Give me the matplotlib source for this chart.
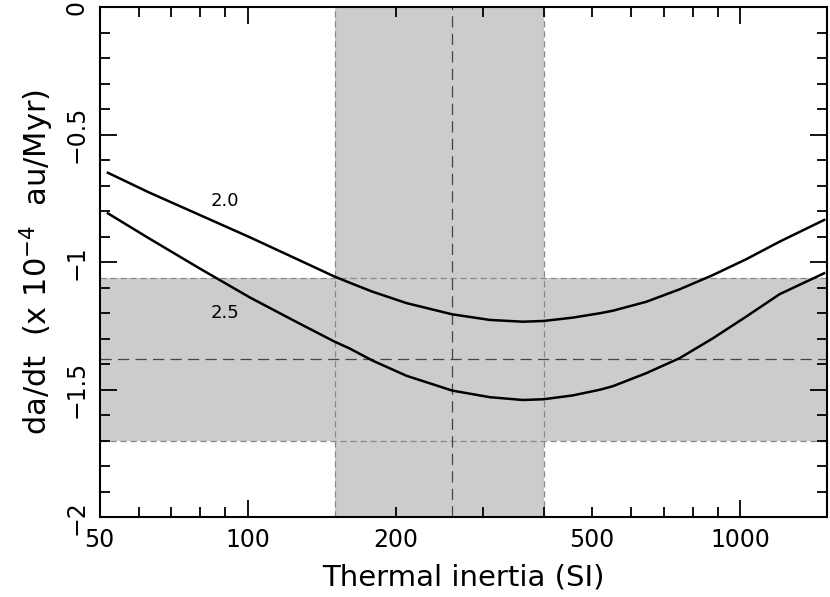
import numpy as np
from matplotlib import pyplot as plt
from matplotlib import ticker

plt.rcParams.update({'font.size': 17, 'font.family': 'DejaVu Sans', 'mathtext.fontset': 'dejavusans'})

# thermal inertia (SI) and da/dt (1e-4 au/Myr)
inertia = [52, 63, 80, 101, 127, 150, 161, 179, 210, 260, 310, 362, 399, 457, 518, 551, 644, 753, 880, 1028, 1202, 1480]
dadt_20 = [-0.649, -0.726, -0.815, -0.902, -0.991, -1.056, -1.080, -1.115, -1.160, -1.204, -1.226, -1.233,
           -1.230, -1.217, -1.200, -1.190, -1.155, -1.106, -1.050, -0.988, -0.919, -0.834]
dadt_25 = [-0.808, -0.906, -1.025, -1.138, -1.239, -1.311, -1.338, -1.385, -1.445, -1.503, -1.529, -1.540,
           -1.537, -1.522, -1.500, -1.486, -1.435, -1.376, -1.298, -1.213, -1.125, -1.043]
curve_labels = ['2.0', '2.5']
label_pos = [(90, -0.76), (90, -1.20)]

# measured ranges
inertia_lo, inertia_mid, inertia_hi = 150, 260, 400
rate_lo, rate_mid, rate_hi = -1.70, -1.38, -1.06

fig = plt.figure(figsize=(8.3, 5.97), dpi=100)
axis = fig.add_axes([0.1199, 0.1335, 0.8765, 0.8543])

axis.axvspan(inertia_lo, inertia_hi, color='#cccccc', lw=0, zorder=0)
axis.axhspan(rate_lo, rate_hi, color='#cccccc', lw=0, zorder=0)
for v in (inertia_lo, inertia_hi):
    axis.axvline(v, color='#888888', lw=0.9, dashes=(5, 3), zorder=1)
for v in (rate_lo, rate_hi):
    axis.axhline(v, color='#888888', lw=0.9, dashes=(5, 3), zorder=1)
axis.axvline(inertia_mid, color='#444444', lw=0.9, dashes=(9, 5), zorder=1)
axis.axhline(rate_mid, color='#444444', lw=0.9, dashes=(9, 5), zorder=1)

for values in (dadt_20, dadt_25):
    axis.plot(inertia, values, color='black', lw=1.8, zorder=3)
for text, (x, y) in zip(curve_labels, label_pos):
    axis.text(x, y, text, fontsize=13, ha='center', va='center', zorder=4)

axis.set_xscale('log')
axis.set_xlim(50, 1500)
axis.set_ylim(-2, 0)

axis.xaxis.set_major_locator(ticker.FixedLocator([100, 1000]))
axis.xaxis.set_minor_locator(ticker.FixedLocator([50, 60, 70, 80, 90, 200, 300, 400, 500, 600, 700, 800, 900]))
axis.xaxis.set_major_formatter(ticker.FuncFormatter(lambda v, p: '%d' % v))
axis.xaxis.set_minor_formatter(ticker.FuncFormatter(lambda v, p: '%d' % v if round(v) in (50, 200, 500) else ''))
axis.yaxis.set_major_locator(ticker.MultipleLocator(0.5))
axis.yaxis.set_minor_locator(ticker.MultipleLocator(0.1))
axis.yaxis.set_major_formatter(ticker.FuncFormatter(lambda v, p: ('%g' % v).replace('-', '\u2212')))

axis.tick_params(which='both', direction='in', top=True, right=True, width=1.3, colors='black')
axis.tick_params(which='major', length=12)
axis.tick_params(which='minor', length=7)
axis.tick_params(axis='x', which='both', pad=8, labelsize=17)
axis.tick_params(axis='y', which='both', pad=8, labelsize=17)
for lab in axis.get_yticklabels():
    lab.set_rotation(90)
    lab.set_va('center')
for s in axis.spines.values():
    s.set_linewidth(1.5)

axis.set_xlabel('Thermal inertia (SI)', fontsize=21, labelpad=8)
axis.set_ylabel('da/dt  (x 10$^{-4}$  au/Myr)', fontsize=22, labelpad=6)

plt.savefig('out.png', dpi=100)
